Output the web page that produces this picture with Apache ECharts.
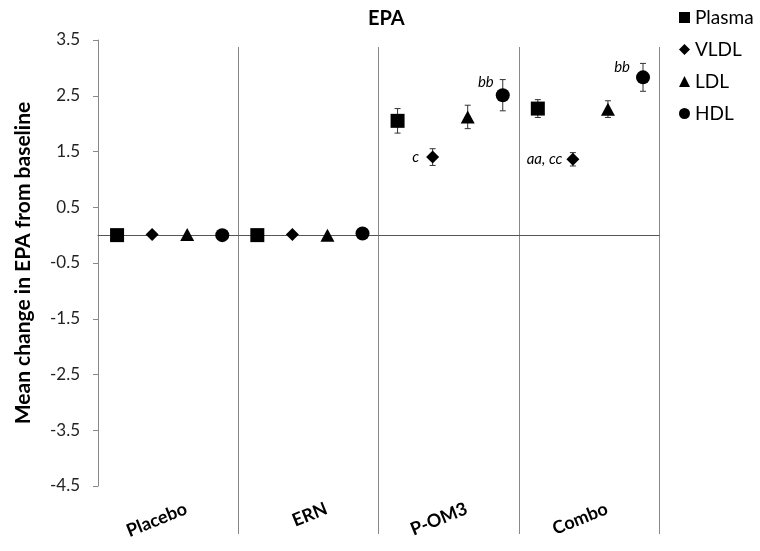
<!DOCTYPE html>
<html>
<head>
<meta charset="utf-8">
<script src="https://cdn.jsdelivr.net/npm/echarts@6/dist/echarts.min.js"></script>
<style>html,body{margin:0;padding:0;background:#fff}#c{width:760px;height:551px}</style>
</head>
<body>
<div id="c"></div>
<script>
// ---- data ----
const categories = ['Placebo', 'ERN', 'P-OM3', 'Combo'];
const seriesNames = ['Plasma', 'VLDL', 'LDL', 'HDL'];
const plasma    = [0.00, 0.00, 2.05, 2.27];
const plasmaErr = [0.00, 0.00, 0.22, 0.16];
const vldl      = [0.01, 0.01, 1.40, 1.36];
const vldlErr   = [0.00, 0.00, 0.15, 0.12];
const ldl       = [0.01, 0.00, 2.12, 2.26];
const ldlErr    = [0.00, 0.00, 0.21, 0.15];
const hdl       = [0.00, 0.03, 2.51, 2.83];
const hdlErr    = [0.00, 0.00, 0.28, 0.25];
const yMin = -4.5, yMax = 3.5, yStep = 1;
// annotations: [group index, series index, text]
const annotations = [
  [2, 1, 'c'],
  [2, 3, 'bb'],
  [3, 1, 'aa, cc'],
  [3, 3, 'bb']
];

// ---- styling ----
const FONT = 'Lato, "Open Sans", sans-serif';
const values = [plasma, vldl, ldl, hdl];
const errors = [plasmaErr, vldlErr, ldlErr, hdlErr];
const symbols = ['rect', 'diamond', 'triangle', 'circle'];
const symbolSizes = [14, 13, [14, 13], 14];
const slotStart = 0.136, slotStep = 0.25;
const annStyle = [
  {distance: 7, offset: [0, 0]},
  {distance: 2, offset: [0, -13]},
  {distance: 4, offset: [0, 0]},
  {distance: 6, offset: [0, -10]}
];

function xPos(g, s) { return g + slotStart + slotStep * s; }

const series = [];
// error bars
values.forEach((vals, s) => {
  series.push({
    type: 'custom',
    xAxisIndex: 0, yAxisIndex: 0,
    silent: true,
    z: 2,
    data: vals.map((v, g) => [xPos(g, s), v - errors[s][g], v + errors[s][g]]).filter((d, g) => errors[s][g] > 0),
    renderItem: function (params, api) {
      const lo = api.coord([api.value(0), api.value(1)]);
      const hi = api.coord([api.value(0), api.value(2)]);
      const cw = 3;
      const st = {stroke: '#333', lineWidth: 1};
      return {
        type: 'group',
        children: [
          {type: 'line', shape: {x1: lo[0], y1: lo[1], x2: hi[0], y2: hi[1]}, style: st},
          {type: 'line', shape: {x1: lo[0] - cw, y1: lo[1], x2: lo[0] + cw, y2: lo[1]}, style: st},
          {type: 'line', shape: {x1: hi[0] - cw, y1: hi[1], x2: hi[0] + cw, y2: hi[1]}, style: st}
        ]
      };
    }
  });
});
// markers
values.forEach((vals, s) => {
  series.push({
    name: seriesNames[s],
    type: 'scatter',
    xAxisIndex: 0, yAxisIndex: 0,
    symbol: symbols[s],
    symbolSize: symbolSizes[s],
    z: 3,
    itemStyle: {color: '#000', opacity: 1},
    emphasis: {disabled: true},
    data: vals.map((v, g) => {
      const item = {value: [xPos(g, s), v]};
      annotations.forEach((a, k) => {
        if (a[0] === g && a[1] === s) {
          item.label = {
            show: true, formatter: a[2], position: 'left',
            distance: annStyle[k].distance, offset: annStyle[k].offset,
            fontStyle: 'italic', fontSize: 15, color: '#000', fontFamily: FONT
          };
        }
      });
      return item;
    })
  });
});

const chart = echarts.init(document.getElementById('c'), null, {renderer: 'canvas'});
chart.setOption({
  backgroundColor: '#fff',
  animation: false,
  title: {
    text: 'EPA', left: 368, top: 9, padding: 0,
    textStyle: {fontFamily: FONT, fontWeight: 'bold', fontSize: 20, color: '#000'}
  },
  legend: {
    data: seriesNames.map((n, i) => ({name: n, icon: symbols[i]})),
    orient: 'vertical', left: 679, top: 8, padding: 0,
    itemWidth: 11, itemHeight: 11, itemGap: 13,
    textStyle: {fontFamily: FONT, fontSize: 19, color: '#000', lineHeight: 17},
    selectedMode: false
  },
  grid: [
    {left: 98, right: 101, top: 40, bottom: 65},
    {left: 98, right: 101, top: 47, bottom: 17},
    {left: 116, right: 83, top: 40, bottom: 65}
  ],
  xAxis: [
    {
      type: 'value', gridIndex: 0, min: 0, max: categories.length,
      axisLine: {show: true, onZero: true, lineStyle: {color: '#555', width: 1}},
      axisTick: {show: false}, axisLabel: {show: false}, splitLine: {show: false}
    },
    {
      type: 'value', gridIndex: 1, min: 0, max: categories.length, interval: 1,
      axisLine: {show: false}, axisTick: {show: false}, axisLabel: {show: false},
      splitLine: {show: true, showMinLine: false, showMaxLine: true, lineStyle: {color: '#888', width: 1}}
    },
    {
      type: 'category', gridIndex: 2, data: categories, boundaryGap: true, position: 'bottom',
      axisLine: {show: false}, axisTick: {show: false}, splitLine: {show: false},
      axisLabel: {rotate: 22, margin: 22, fontFamily: FONT, fontWeight: 'bold', fontSize: 18, color: '#000', interval: 0}
    }
  ],
  yAxis: [
    {
      type: 'value', gridIndex: 0, min: yMin, max: yMax, interval: yStep,
      name: 'Mean change in EPA from baseline', nameLocation: 'middle', nameGap: 64,
      nameTextStyle: {fontFamily: FONT, fontWeight: 'bold', fontSize: 21, color: '#000'},
      axisLine: {show: true, onZero: false, lineStyle: {color: '#888', width: 1}},
      axisTick: {show: true, length: 5, lineStyle: {color: '#888'}},
      axisLabel: {margin: 18, fontFamily: FONT, fontSize: 17, color: '#222', formatter: v => v.toFixed(1)},
      splitLine: {show: false}
    },
    {type: 'value', gridIndex: 1, min: 0, max: 1, show: false},
    {type: 'value', gridIndex: 2, min: 0, max: 1, show: false}
  ],
  series: series
});
</script>
</body>
</html>
